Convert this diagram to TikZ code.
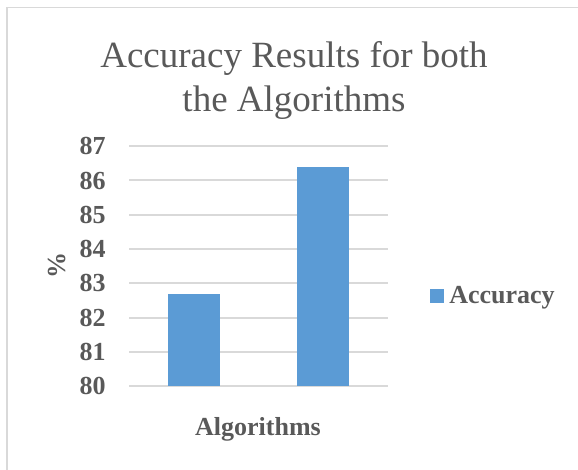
\documentclass[tikz,border=0pt]{standalone}
\usepackage{fontspec}
\setmainfont{Liberation Serif}
\usepackage{xcolor}
\definecolor{barblue}{HTML}{5B9BD5}
\definecolor{labelgray}{HTML}{595959}
\definecolor{gridgray}{HTML}{D9D9D9}

\begin{document}
\begin{tikzpicture}[x=0.75pt, y=-0.75pt]
    \tikzstyle{title} = [anchor=base, inner sep=0pt, font=\fontsize{27.75}{33}\selectfont, text=labelgray]
    \tikzstyle{ticklabel} = [anchor=east, inner sep=0pt, font=\fontsize{19.5}{23}\selectfont\bfseries, text=labelgray]
    \tikzstyle{axislabel} = [inner sep=0pt, font=\fontsize{19.5}{23}\selectfont\bfseries, text=labelgray]
    \tikzstyle{gridline} = [draw=gridgray, line width=1.5pt]
    \tikzstyle{bar} = [fill=barblue]

    \useasboundingbox (0,0) rectangle (578,470);

    % Chart frame
    \draw [gridgray, line width=1pt] (7,470) -- (7,7.5) -- (578,7.5);

    % Title
    \node [title] (title_top) at (294,68) {Accuracy Results for both};
    \node [title] (title_bottom) at (294,112) {the Algorithms};

    % Gridlines
    \draw [gridline] (129,386) -- (388,386);
    \draw [gridline] (129,351.75) -- (388,351.75);
    \draw [gridline] (129,317.5) -- (388,317.5);
    \draw [gridline] (129,283.25) -- (388,283.25);
    \draw [gridline] (129,249) -- (388,249);
    \draw [gridline] (129,214.75) -- (388,214.75);
    \draw [gridline] (129,180.5) -- (388,180.5);
    \draw [gridline] (129,146.25) -- (388,146.25);

    % Tick labels
    \node [ticklabel] (tick80) at (106,386) {80};
    \node [ticklabel] (tick81) at (106,351.75) {81};
    \node [ticklabel] (tick82) at (106,317.5) {82};
    \node [ticklabel] (tick83) at (106,283.25) {83};
    \node [ticklabel] (tick84) at (106,249) {84};
    \node [ticklabel] (tick85) at (106,214.75) {85};
    \node [ticklabel] (tick86) at (106,180.5) {86};
    \node [ticklabel] (tick87) at (106,146.25) {87};

    % Bars
    \fill [bar] (168,386) rectangle (220,293.5);
    \fill [bar] (297,386) rectangle (349,166.8);

    % Axis titles
    \node [axislabel, rotate=90] (y_title) at (57,266) {\%};
    \node [axislabel, anchor=base] (x_title) at (258,435) {Algorithms};

    % Legend
    \fill [bar] (430,289) rectangle (444,303);
    \node [axislabel, anchor=base west] (legend_text) at (449,303) {Accuracy};
\end{tikzpicture}
\end{document}
